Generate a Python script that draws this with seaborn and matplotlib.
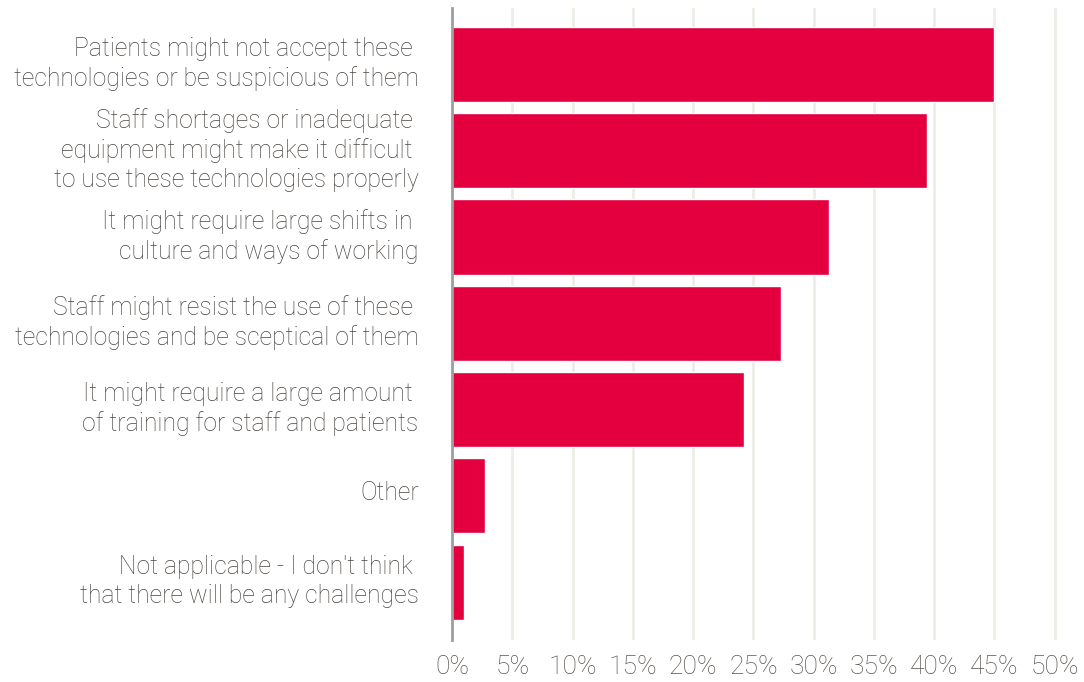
"""Challenges chart: horizontal bars"""
import matplotlib
matplotlib.use('Agg')
import matplotlib.pyplot as plt
import matplotlib.transforms as mtransforms
import seaborn as sns
import pandas as pd

# data
challenges = [
    "Patients might not accept these \ntechnologies or be suspicious of them",
    "Staff shortages or inadequate \nequipment might make it difficult \nto use these technologies properly",
    "It might require large shifts in \nculture and ways of working",
    "Staff might resist the use of these \ntechnologies and be sceptical of them",
    "It might require a large amount \nof training for staff and patients",
    "Other",
    "Not applicable - I don't think \nthat there will be any challenges",
]
shares = [45.0, 39.4, 31.3, 27.3, 24.2, 2.7, 1.0]
x_ticks = [0, 5, 10, 15, 20, 25, 30, 35, 40, 45, 50]
x_tick_labels = [f"{t}%" for t in x_ticks]

df = pd.DataFrame({'challenge': challenges, 'share': shares})

sns.set_theme(style='white')
plt.rcParams['font.family'] = ['Roboto', 'DejaVu Sans']

fig = plt.figure(figsize=(10.84, 6.82), dpi=100)
ax = fig.add_axes([452 / 1084, 1 - 640 / 682, 610 / 1084, 632 / 682])

sns.barplot(data=df, x='share', y='challenge', color='#e4003f',
            saturation=1, width=0.87, ax=ax)

ax.set_xlim(0, 50.6)
ax.set_ylim(6.672, -0.655)
ax.set_xticks(x_ticks)
ax.set_xticklabels(x_tick_labels)
ax.set_xlabel('')
ax.set_ylabel('')

# gridlines
ax.grid(axis='x', color='#eeece7', linewidth=2)
ax.grid(axis='y', visible=False)
ax.set_axisbelow(True)

for side in ['top', 'right', 'bottom']:
    ax.spines[side].set_visible(False)
ax.spines['left'].set_color('#a19d9a')
ax.spines['left'].set_linewidth(2)

ax.tick_params(axis='y', length=13, width=1.5, color='#e3e1da', pad=11,
               labelsize=17.8, labelcolor='#4a4541')
ax.tick_params(axis='x', length=0, pad=11, labelsize=19, labelcolor='#5a5551')

# labels sit a little above the bar centre in the original
shift = mtransforms.ScaledTranslation(0, 4 / 72, fig.dpi_scale_trans)
for lbl in ax.get_yticklabels():
    lbl.set_fontweight('light')
    lbl.set_linespacing(1.25)
    lbl.set_transform(lbl.get_transform() + shift)
for lbl in ax.get_xticklabels():
    lbl.set_fontweight('light')

fig.savefig('out.png', dpi=100)
